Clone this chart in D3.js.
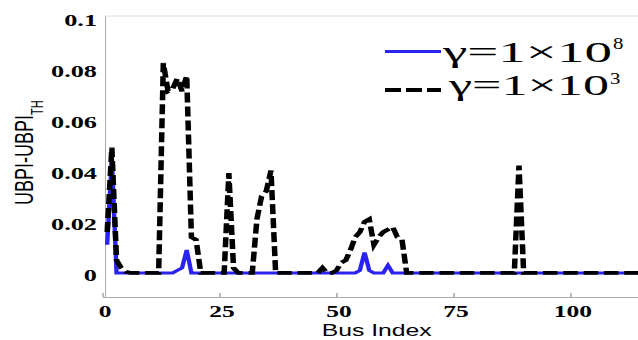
<!DOCTYPE html>
<meta charset="utf-8">
<title>UBPI - UBPI_TH by bus</title>
<style>
  body { margin: 0; background: #fff; }
  svg { display: block; }
</style>
<svg id="chart"></svg>
<script src="https://cdn.jsdelivr.net/npm/d3@7"></script>
<script>
  // data
  var buses = d3.range(1, 119); // IEEE 118 bus

  var gamma1e8 = [
    0.011, 0.045, 0, 0, 0, 0, 0, 0, 0, 0,
    0, 0, 0, 0, 0, 0.001, 0.002, 0.009, 0, 0,
    0, 0, 0, 0, 0, 0, 0, 0, 0, 0,
    0, 0, 0, 0, 0, 0, 0, 0, 0, 0,
    0, 0, 0, 0, 0, 0, 0, 0, 0, 0,
    0, 0, 0, 0, 0.001, 0.008, 0.001, 0, 0, 0,
    0.003, 0, 0, 0, 0, 0, 0, 0, 0, 0,
    0, 0, 0, 0, 0, 0, 0, 0, 0, 0,
    0, 0, 0, 0, 0, 0, 0, 0, 0, 0,
    0, 0, 0, 0, 0, 0, 0, 0, 0, 0,
    0, 0, 0, 0, 0, 0, 0, 0, 0, 0,
    0, 0, 0, 0, 0, 0, 0, 0
  ];

  var gamma1e3 = [
    0.016, 0.049, 0.005, 0.002, 0.0005, 0, 0, 0, 0, 0,
    0, 0, 0.082, 0.071, 0.072, 0.076, 0.071, 0.077, 0.014, 0.013,
    0, 0, 0, 0, 0, 0, 0.039, 0.002, 0, 0,
    0, 0, 0.021, 0.030, 0.032, 0.040, 0, 0, 0, 0,
    0, 0, 0, 0, 0, 0, 0.002, 0, 0, 0.001,
    0.004, 0.005, 0.009, 0.014, 0.016, 0.020, 0.021, 0.011, 0.014, 0.016,
    0.017, 0.018, 0.014, 0.013, 0, 0, 0, 0, 0, 0,
    0, 0, 0, 0, 0, 0, 0, 0, 0, 0,
    0, 0, 0, 0, 0, 0, 0, 0, 0.042, 0,
    0, 0, 0, 0, 0, 0, 0, 0, 0, 0,
    0, 0, 0, 0, 0, 0, 0, 0, 0, 0,
    0, 0, 0, 0, 0, 0, 0, 0
  ];

  var xTicks = [0, 25, 50, 75, 100];
  var yTicks = [0, 0.02, 0.04, 0.06, 0.08, 0.1];
  var legendBase = ['γ=1×10', 'γ=1×10'];
  var legendExp = ['8', '3'];

  // fonts
  var serif = 'Liberation Serif';
  var sans = 'Liberation Sans';

  // layout
  var width = 638, height = 340;
  var stretch = 1.45; // the original figure is squashed out sideways

  var svg = d3.select('#chart')
      .attr('width', width)
      .attr('height', height);

  var x = d3.scaleLinear().domain([0, 118]).range([102.5, 654.7]);
  var y = d3.scaleLinear().domain([-0.0094, 0.1004]).range([297, 16]);
  // same x scale but in the units of the stretched group
  var xs = x.copy().range(x.range().map(function(v) {return v / stretch;}));

  // fit a text to a wanted width by squeezing/stretching it sideways
  function fitWidth(t, x0, y0, w) {
    var k = w / t.node().getComputedTextLength();
    t.attr('transform', 'translate(' + x0 + ',' + y0 + ') scale(' + k + ',1)');
  }

  // top frame
  svg.append('line')
    .attr('x1', 105).attr('x2', width)
    .attr('y1', y(0.1004)).attr('y2', y(0.1004))
    .attr('stroke', '#ddd');

  // axes
  var xAxis = svg.append('g')
    .attr('transform', 'translate(0,' + y(-0.0094) + ')')
    .call(d3.axisBottom(x).tickValues(xTicks).tickSizeInner(-4).tickSizeOuter(0).tickPadding(8));
  xAxis.select('.domain').attr('stroke', '#aaa');
  xAxis.selectAll('.tick line').attr('stroke', '#777');
  xAxis.selectAll('.tick text')
    .style('font-family', serif)
    .style('font-weight', 'bold')
    .style('font-size', '17px')
    .attr('fill', '#000')
    .attr('x', 2 / 1.5)
    .attr('transform', 'scale(1.5,1)');

  var yAxis = svg.append('g')
    .attr('transform', 'translate(105,0)')
    .call(d3.axisLeft(y).tickValues(yTicks).tickSize(0).tickPadding(8)
      .tickFormat(function(d) {return d === 0 ? '0' : d === 0.1 ? '0.1' : d3.format('.2f')(d);}));
  yAxis.select('.domain').attr('stroke', '#aaa');
  yAxis.selectAll('.tick text')
    .style('font-family', serif)
    .style('font-weight', 'bold')
    .style('font-size', '17.5px')
    .attr('fill', '#000')
    .attr('x', -8 / 1.5)
    .attr('dy', '0.46em')
    .attr('transform', 'scale(1.5,1)');

  // lines
  var plot = svg.append('g').attr('transform', 'scale(' + stretch + ',1)');
  var line = d3.line()
    .x(function(d, i) {return xs(buses[i]);})
    .y(function(d) {return y(d);});

  plot.append('path')
    .datum(gamma1e8)
    .attr('fill', 'none')
    .attr('stroke', '#2a22f0')
    .attr('stroke-width', 3)
    .attr('d', line);

  plot.append('path')
    .datum(gamma1e3)
    .attr('fill', 'none')
    .attr('stroke', '#000')
    .attr('stroke-width', 3.8)
    .attr('stroke-dasharray', '10,4')
    .attr('d', line);

  // legend
  var legendColors = ['#2a22f0', '#000'];
  var legendDash = [null, '16,5'];
  var lineY = [51.5, 90], baseY = [62, 95], supY = [49, 84];
  var textStart = [443, 449], textEnd = [612, 609];

  legendBase.forEach(function(label, i) {
    svg.append('line')
      .attr('x1', 385).attr('x2', 441)
      .attr('y1', lineY[i]).attr('y2', lineY[i])
      .attr('stroke', legendColors[i])
      .attr('stroke-width', i ? 4 : 3)
      .attr('stroke-dasharray', legendDash[i]);

    var t = svg.append('text')
      .style('font-family', serif)
      .style('font-size', '29px')
      .text(label);
    fitWidth(t, textStart[i], baseY[i], textEnd[i] - textStart[i]);

    svg.append('text')
      .style('font-family', serif)
      .style('font-size', '16px')
      .attr('transform', 'translate(' + (textEnd[i] + 1) + ',' + supY[i] + ') scale(1.3,1)')
      .text(legendExp[i]);
  });

  // axis titles
  var yTitle = svg.append('text')
    .style('font-family', sans)
    .style('font-size', '18px')
    .attr('transform', 'translate(33,205) scale(1.45,1) rotate(-90)')
    .text('UBPI-UBPI');
  yTitle.append('tspan')
    .attr('dy', 7)
    .style('font-size', '11px')
    .text('TH');

  svg.append('text')
    .style('font-family', sans)
    .style('font-size', '16.5px')
    .attr('transform', 'translate(376.7,336) scale(1.5,1)')
    .attr('text-anchor', 'middle')
    .text('Bus Index');
</script>
